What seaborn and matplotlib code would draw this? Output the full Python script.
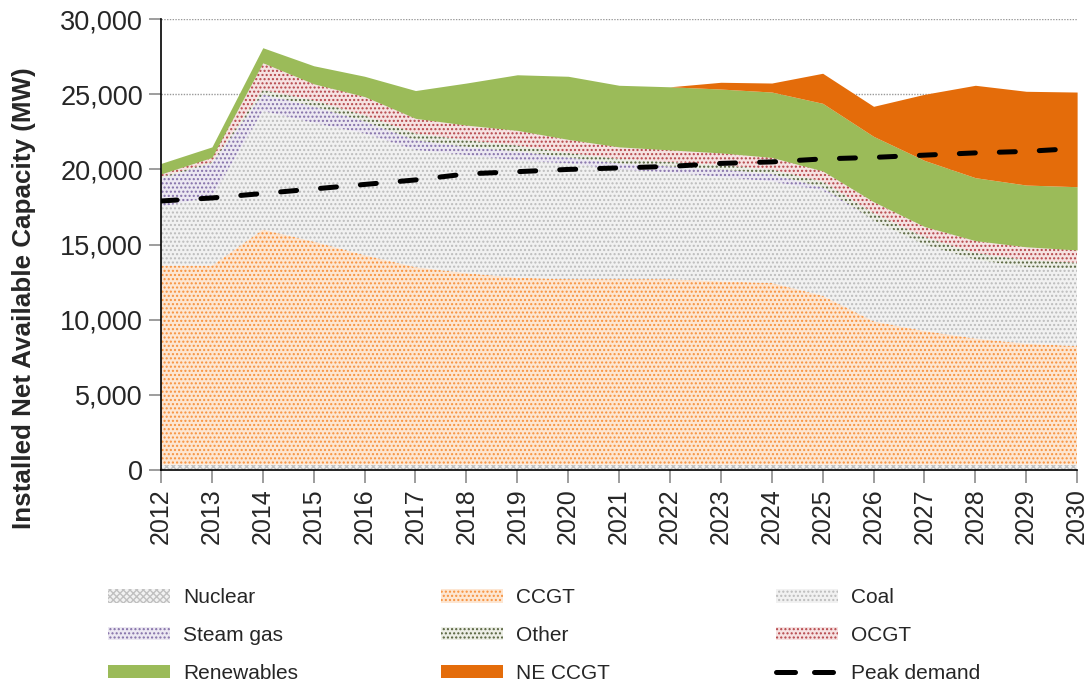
import numpy as np
import pandas as pd
import matplotlib
matplotlib.use("Agg")
import matplotlib.pyplot as plt
from matplotlib.lines import Line2D
import seaborn as sns

YEARS = list(range(2012, 2031))

# Installed net available capacity by technology (MW)
NUCLEAR    = [350] * 19
CCGT       = [13250, 13250, 15650, 14850, 13950, 13150, 12750, 12450, 12350, 12350,
              12350, 12200, 12100, 11250, 9550, 8900, 8400, 8050, 7900]
COAL       = [3900, 4600, 7900, 7900, 8100, 7800, 7850, 7800, 7700, 7300,
              7100, 6950, 6750, 7000, 6700, 5750, 5250, 5100, 5150]
STEAM_GAS  = [1900, 2200, 1100, 1100, 800, 650, 550, 600, 400, 400,
              400, 500, 500, 200, 0, 0, 0, 0, 0]
OTHER      = [100, 100, 300, 400, 400, 450, 450, 400, 300, 300,
              300, 300, 300, 400, 500, 500, 450, 470, 400]
OCGT       = [200, 300, 1800, 1100, 1250, 1000, 1000, 1000, 900, 800,
              800, 800, 800, 700, 750, 700, 810, 880, 840]
RENEWABLES = [700, 700, 1000, 1200, 1350, 1850, 2800, 3700, 4200, 4100,
              4200, 4250, 4350, 4500, 4350, 4400, 4190, 4110, 4210]
NE_CCGT    = [0, 0, 0, 0, 0, 0, 0, 0, 0, 0,
              0, 450, 600, 2000, 2000, 4400, 6150, 6240, 6300]
PEAK_DEMAND = [17900, 18100, 18400, 18700, 19000, 19300, 19700, 19850, 20000, 20100,
               20200, 20400, 20500, 20700, 20800, 20950, 21100, 21200, 21400]

SERIES = ["Nuclear", "CCGT", "Coal", "Steam gas", "Other", "OCGT", "Renewables", "NE CCGT"]

# face colour, hatch colour, hatch pattern
STYLE = {
    "Nuclear":    ("#f2f2f2", "#c0c0c0", "xxxxx"),
    "CCGT":       ("#fde6d2", "#f7923e", "...."),
    "Coal":       ("#f1f1f1", "#bcbcbc", "...."),
    "Steam gas":  ("#ece8f2", "#8470a8", "...."),
    "Other":      ("#eceee6", "#55613c", "...."),
    "OCGT":       ("#f6e2e2", "#b5464a", "...."),
    "Renewables": ("#9bbb59", None, ""),
    "NE CCGT":    ("#e46c0a", None, ""),
}

df = pd.DataFrame({
    "Year": YEARS,
    "Nuclear": NUCLEAR, "CCGT": CCGT, "Coal": COAL, "Steam gas": STEAM_GAS,
    "Other": OTHER, "OCGT": OCGT, "Renewables": RENEWABLES, "NE CCGT": NE_CCGT,
    "Peak demand": PEAK_DEMAND,
})

sns.set_style("white")
plt.rcParams["font.family"] = ["Liberation Sans", "DejaVu Sans"]
plt.rcParams["hatch.linewidth"] = 1.0

fig = plt.figure(figsize=(10.88, 6.85), dpi=100)
ax = fig.add_axes([0.148, 0.314, 0.842, 0.658])

# stacked areas, bottom to top
handles = {}
base = np.zeros(len(YEARS))
for name in SERIES:
    top = base + df[name].to_numpy()
    face, hcol, hatch = STYLE[name]
    if hatch:
        poly = ax.fill_between(df["Year"], base, top, facecolor=face, edgecolor=hcol,
                               hatch=hatch, linewidth=0)
    else:
        poly = ax.fill_between(df["Year"], base, top, facecolor=face, linewidth=0)
    handles[name] = poly
    base = top

sns.lineplot(data=df, x="Year", y="Peak demand", ax=ax, color="black", linewidth=3.6,
             legend=False)
line = ax.lines[-1]
line.set_dashes((3.2, 4.8))
line.set_dash_capstyle("round")
handles["Peak demand"] = Line2D([], [], color="black", linewidth=3.6,
                                dashes=(3.8, 3.8), dash_capstyle="round")
if ax.get_legend() is not None:
    ax.get_legend().remove()

ax.set_xlim(2012, 2030)
ax.set_ylim(0, 30000)
ax.set_xticks(YEARS)
ax.set_xticklabels([str(y) for y in YEARS], rotation=90, fontsize=18)
ax.set_yticks(range(0, 30001, 5000))
ax.set_yticklabels([f"{v:,}" for v in range(0, 30001, 5000)], fontsize=19.5)
ax.set_axisbelow(True)
ax.yaxis.grid(True, linestyle=(0, (1, 1)), color="#9a9a9a", linewidth=1.0)
ax.tick_params(axis="both", direction="out", length=9, width=1.2, color="#8c8c8c",
               left=True, bottom=True, pad=4)
ax.set_ylabel("Installed Net Available Capacity (MW)", fontsize=18.7, fontweight="bold")
ax.yaxis.set_label_coords(-0.137, 0.382)
ax.set_xlabel("")
for side in ["top", "right"]:
    ax.spines[side].set_visible(False)
for side in ["left", "bottom"]:
    ax.spines[side].set_color("black")
    ax.spines[side].set_linewidth(1.2)

# legend: three fixed-width columns below the plot
columns = [["Nuclear", "Steam gas", "Renewables"],
           ["CCGT", "Other", "NE CCGT"],
           ["Coal", "OCGT", "Peak demand"]]
x_starts = [0.0995, 0.4055, 0.7135]
for names, x0 in zip(columns, x_starts):
    fig.legend([handles[n] for n in names], names, loc="upper left",
               bbox_to_anchor=(x0, 0.141), frameon=False, fontsize=15,
               handlelength=2.95, handleheight=0.6, handletextpad=0.65,
               labelspacing=0.9, borderaxespad=0, borderpad=0)

fig.savefig("out.png", dpi=100)
